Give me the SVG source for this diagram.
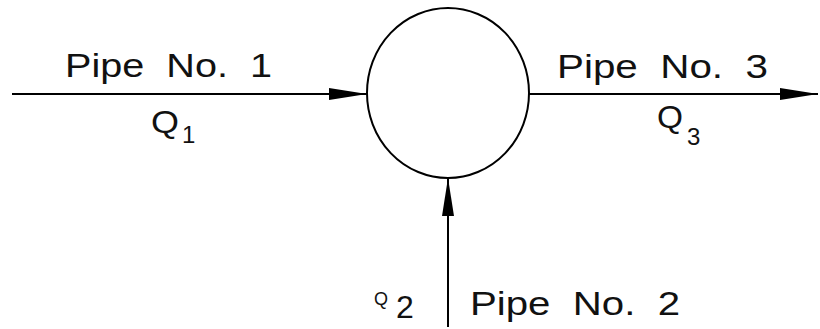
<svg xmlns="http://www.w3.org/2000/svg" width="820" height="329" viewBox="0 0 820 329">
<style>
.ln{stroke:#000;stroke-width:2;fill:none}
.t{font-family:"Liberation Sans",Arial,sans-serif;fill:#111}
.big{font-size:33px}
.q{font-size:31px}
.sub{font-size:24px}
</style>
<defs>
<marker id="ah" markerWidth="38" markerHeight="14" refX="38" refY="7" orient="auto" markerUnits="userSpaceOnUse">
<path d="M0,1 L38,7 L0,13 Z" fill="#000"/>
</marker>
</defs>
<rect width="820" height="329" fill="#fff"/>
<g id="junction">
<ellipse cx="448" cy="93" rx="81" ry="85" class="ln"/>
</g>
<g id="connectors">
<line x1="12" y1="94" x2="367" y2="94" class="ln" marker-end="url(#ah)"/>
<line x1="529" y1="94" x2="818" y2="94" class="ln" marker-end="url(#ah)"/>
<line x1="448" y1="327" x2="448" y2="178" class="ln" marker-end="url(#ah)"/>
</g>
<g id="pipe1">
<text x="65" y="77" class="t big" textLength="207" lengthAdjust="spacingAndGlyphs" xml:space="preserve">Pipe  No.  1</text>
<text x="151" y="133" class="t q" textLength="28" lengthAdjust="spacingAndGlyphs">Q</text>
<text x="182" y="143" class="t sub">1</text>
</g>
<g id="pipe3">
<text x="657" y="128" class="t q" textLength="26" lengthAdjust="spacingAndGlyphs">Q</text>
<text x="687" y="145" class="t sub">3</text>
<text x="557" y="78" class="t big" textLength="211" lengthAdjust="spacingAndGlyphs" xml:space="preserve">Pipe  No.  3</text>
</g>
<g id="pipe2">
<text x="374" y="305" class="t" font-size="18">Q</text>
<text x="396" y="318" class="t" font-size="32">2</text>
<text x="470" y="315" class="t big" textLength="210" lengthAdjust="spacingAndGlyphs" xml:space="preserve">Pipe  No.  2</text>
</g>
</svg>
